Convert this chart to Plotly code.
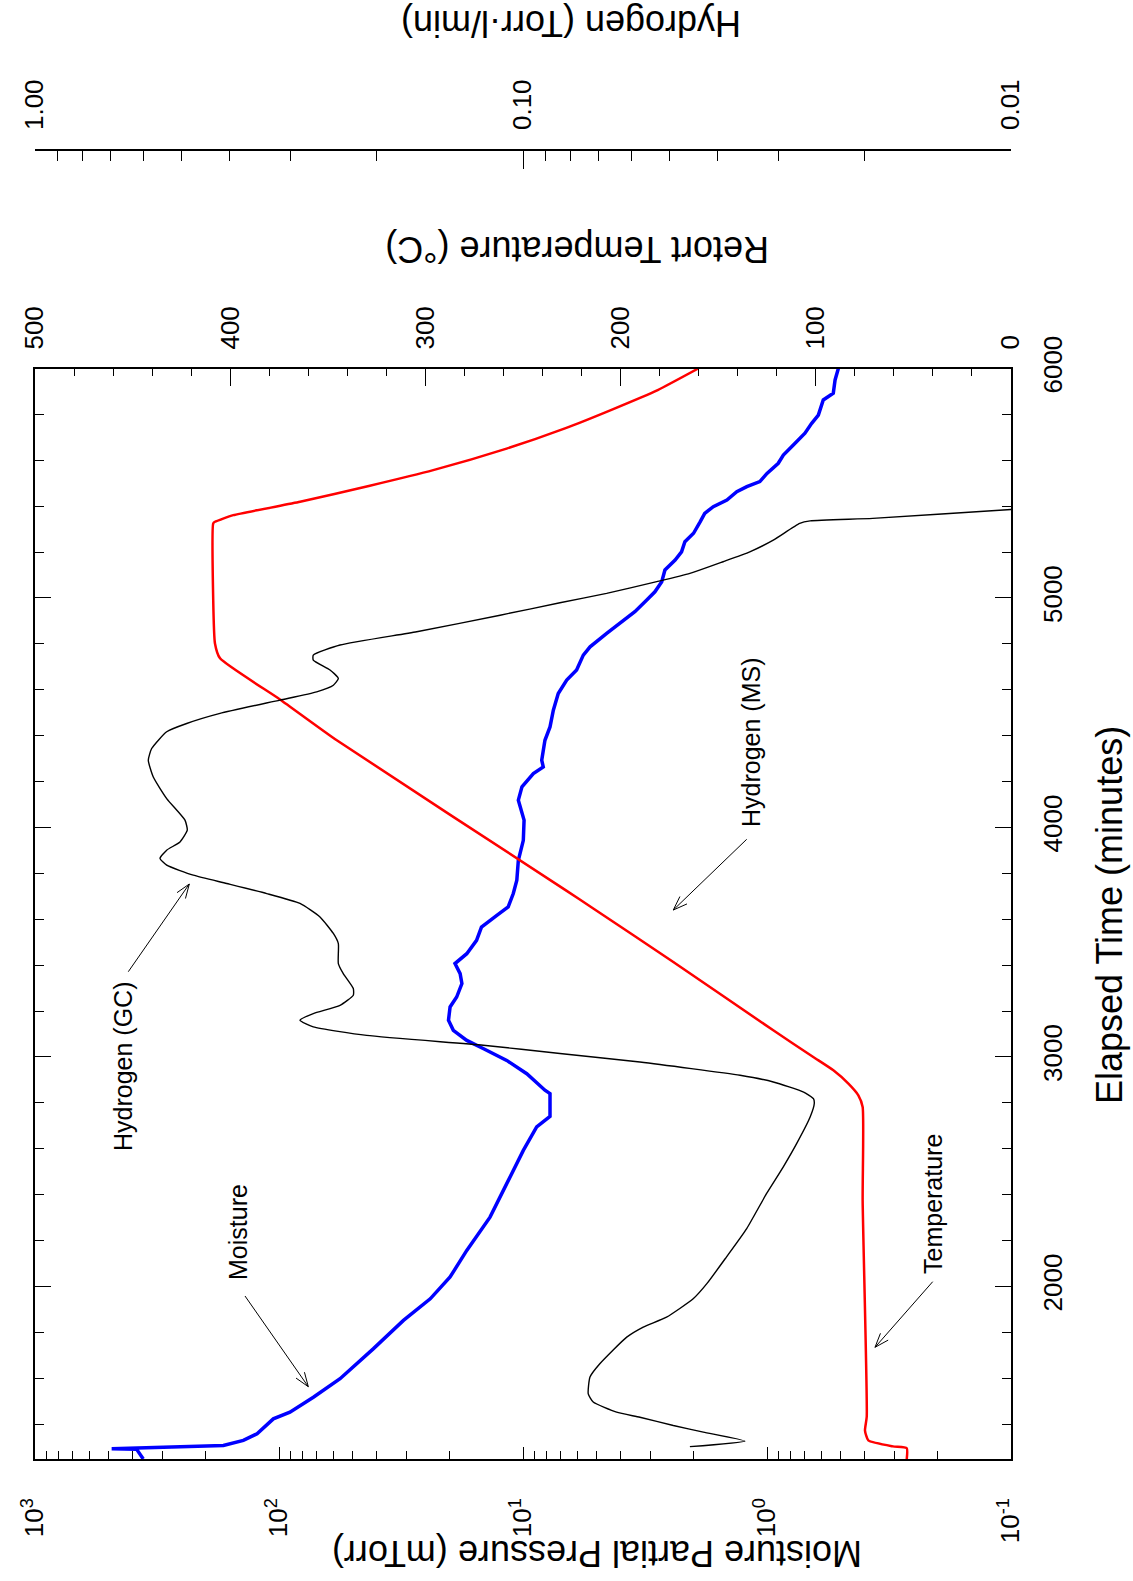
import math
import plotly.graph_objects as go

# ---------------- data ----------------
# Retort temperature (deg C) vs elapsed time (min)
red_time = [1248, 1295, 1303, 1329, 1372, 1433, 2375, 2782, 2833, 2884, 2942, 3000, 3116, 3414,
            3647, 3726, 4380, 4558, 4737, 4802, 4991, 5325, 5332, 5361, 5419, 5488, 5557, 5652,
            5739, 5819, 5906, 6000]
red_temp = [53.4, 53.4, 60.5, 73.1, 74.8, 73.9, 76.0, 76.0, 78.2, 83.3, 91.0, 101.3, 121.8, 173.0,
            214.0, 228.0, 345.4, 374.5, 405.2, 407.8, 408.7, 408.7, 407.8, 398.4, 364.2, 329.0, 296.0,
            258.0, 228.5, 205.0, 181.0, 160.2]

# Moisture partial pressure (mTorr) vs elapsed time (min)
blue_time = [1248, 1290, 1293, 1307, 1329, 1358, 1423, 1452, 1517, 1598, 1728, 1852, 1946, 2041,
             2157, 2302, 2448, 2593, 2695, 2741, 2840, 2855, 2927, 2985, 3036, 3072, 3116, 3160,
             3218, 3261, 3320, 3363, 3407, 3450, 3508, 3566, 3617, 3654, 3712, 3770, 3857, 3944,
             4032, 4119, 4177, 4235, 4264, 4293, 4380, 4438, 4511, 4584, 4642, 4686, 4751, 4787,
             4846, 4904, 4940, 4991, 5027, 5071, 5122, 5165, 5201, 5245, 5282, 5332, 5369, 5398,
             5427, 5463, 5485, 5507, 5543, 5587, 5623, 5667, 5718, 5761, 5797, 5863, 5892, 5950, 6000]
blue_moist = [360, 383, 485, 169, 140, 123, 105.5, 90.2, 72.3, 56.2, 41.1, 30.9, 24.0, 19.9,
              17.0, 13.65, 11.66, 9.97, 8.79, 7.75, 7.75, 8.13, 9.65, 11.66, 14.5, 17.0, 19.3, 20.2,
              19.9, 18.7, 17.8, 18.1, 19.0, 17.0, 15.5, 14.8, 12.8, 11.5, 10.96, 10.6, 10.45, 9.97,
              9.9, 10.45, 10.1, 9.07, 8.26, 8.38, 8.13, 7.75, 7.51, 7.17, 6.62, 6.03, 5.66, 5.31,
              4.54, 3.88, 3.48, 3.11, 2.88, 2.70, 2.62, 2.38, 2.24, 2.17, 2.00, 1.88, 1.80, 1.66,
              1.46, 1.33, 1.21, 1.07, 1.00, 0.899, 0.857, 0.780, 0.699, 0.656, 0.616, 0.588, 0.535,
              0.526, 0.510]

# Hydrogen (GC), Torr-l/min vs elapsed time (min)
black_time = [1302, 1326, 1365, 1394, 1430, 1452, 1496, 1532, 1605, 1663, 1779, 1823, 1866, 1946,
              2012, 2128, 2252, 2404, 2520, 2622, 2738, 2797, 2818, 2847, 2891, 2920, 2978, 3015,
              3051, 3094, 3131, 3160, 3189, 3225, 3269, 3298, 3363, 3407, 3494, 3538, 3610, 3669,
              3712, 3756, 3792, 3836, 3865, 3901, 3937, 3988, 4032, 4126, 4220, 4293, 4344, 4417,
              4453, 4497, 4555, 4591, 4620, 4649, 4686, 4729, 4751, 4795, 4853, 4925, 4979, 5020,
              5071, 5107, 5158, 5201, 5252, 5325, 5336, 5347, 5386, 5394]
black_h2 = [0.0455, 0.0351, 0.0427, 0.0492, 0.0576, 0.0643, 0.0718, 0.0735, 0.0729, 0.0696, 0.0613,
            0.0567, 0.0508, 0.0448, 0.0420, 0.0383, 0.0348, 0.0317, 0.0293, 0.0275, 0.0258, 0.0253,
            0.0254, 0.0266, 0.0307, 0.0359, 0.0576, 0.0840, 0.1206, 0.2091, 0.2690, 0.2864, 0.2690,
            0.2371, 0.2227, 0.2227, 0.2335, 0.2390, 0.2390, 0.2447, 0.2606, 0.2864, 0.3350, 0.4047,
            0.4739, 0.5372, 0.5544, 0.5372, 0.5045, 0.4875, 0.4928, 0.5372, 0.5723, 0.5859, 0.5767,
            0.5372, 0.4888, 0.4177, 0.3148, 0.2647, 0.2447, 0.2390, 0.2486, 0.2690, 0.2690, 0.2371,
            0.1651, 0.1114, 0.0840, 0.0674, 0.0532, 0.0455, 0.0389, 0.0343, 0.0307, 0.0271, 0.0258,
            0.0192, 0.00997, 0.0087]

# tick values / labels
time_ticks = [2000, 3000, 4000, 5000, 6000]
moist_ticks = [1000, 100, 10, 1, 0.1]
moist_tick_text = ["10<sup>3</sup>", "10<sup>2</sup>", "10<sup>1</sup>", "10<sup>0</sup>", "10<sup>-1</sup>"]
temp_ticks = [500, 400, 300, 200, 100, 0]
h2_ticks = [1.0, 0.1, 0.01]
h2_tick_text = ["1.00", "0.10", "0.01"]

moist_minor = [m * 10.0 ** e for e in range(-1, 3) for m in range(2, 10)]
h2_minor = [m * 10.0 ** e for e in range(-2, 0) for m in range(2, 10)]

# ---------------- layout geometry ----------------
W, H = 1133, 1581
L, R, T, B = 35, 122, 150, 122
PW = W - L - R
PH = H - T - B
MAIN_TOP = 368.5
ydom_top = (H - B - MAIN_TOP) / PH


def px(x):
    return (x - L) / PW


def py(y):
    return (H - B - y) / PH


FONT = "Liberation Sans, Arial, Helvetica, sans-serif"
TICKFONT = dict(family=FONT, size=26, color="black")

fig = go.Figure()
fig.add_trace(go.Scatter(x=blue_moist, y=blue_time, mode="lines", xaxis="x", yaxis="y",
                         line=dict(color="#0000ff", width=3.5), showlegend=False))
fig.add_trace(go.Scatter(x=red_temp, y=red_time, mode="lines", xaxis="x2", yaxis="y",
                         line=dict(color="#ff0000", width=2.5, shape="spline", smoothing=0.5),
                         showlegend=False))
fig.add_trace(go.Scatter(x=black_h2, y=black_time, mode="lines", xaxis="x3", yaxis="y",
                         line=dict(color="black", width=1.4, shape="spline", smoothing=0.5),
                         showlegend=False))

common = dict(showgrid=False, zeroline=False, showline=True, linecolor="black", linewidth=1.5,
              tickcolor="black", tickwidth=1.3, tickfont=TICKFONT, automargin=False)

fig.update_layout(
    width=W, height=H,
    margin=dict(l=L, r=R, t=T, b=B, pad=0),
    paper_bgcolor="white", plot_bgcolor="white",
    showlegend=False,
    font=dict(family=FONT, color="black"),
    xaxis=dict(type="log", range=[3, -1], domain=[0, 1], anchor="y", side="bottom",
               ticks="inside", ticklen=12, tickmode="array", tickvals=moist_ticks,
               ticktext=moist_tick_text, tickangle=-90, ticklabelstandoff=27,
               minor=dict(ticks="inside", ticklen=8, tickmode="array", tickvals=moist_minor,
                          tickcolor="black", tickwidth=1.3, showgrid=False),
               **common),
    xaxis2=dict(range=[500, 0], overlaying="x", anchor="y", side="top",
                ticks="inside", ticklen=18, tickmode="array", tickvals=temp_ticks,
                tickangle=-90, ticklabelstandoff=12,
                minor=dict(ticks="inside", ticklen=8, dtick=20, tick0=0,
                           tickcolor="black", tickwidth=1.3, showgrid=False),
                **common),
    xaxis3=dict(type="log", range=[0, -2], overlaying="x", anchor="free", position=1, side="top",
                ticks="inside", ticklen=18, tickmode="array", tickvals=h2_ticks,
                ticktext=h2_tick_text, tickangle=-90, ticklabelstandoff=14,
                minor=dict(ticks="inside", ticklen=10, tickmode="array", tickvals=h2_minor,
                           tickcolor="black", tickwidth=1.3, showgrid=False),
                **common),
    yaxis=dict(range=[1248, 6000], domain=[0, ydom_top], anchor="x", side="right",
               mirror="ticks", ticks="inside", ticklen=16, tickmode="array", tickvals=time_ticks,
               tickangle=-90, ticklabelstandoff=18,
               minor=dict(ticks="inside", ticklen=9, dtick=200, tick0=0,
                          tickcolor="black", tickwidth=1.3, showgrid=False),
               **common),
)

# axis titles (rotated like the reference)
titles = [
    ("Moisture Partial Pressure (mTorr)", 597, 1553, 180),
    ("Retort Temperature (°C)", 577, 250, 180),
    ("Hydrogen (Torr·l/min)", 571, 24, 180),
    ("Elapsed Time (minutes)", 1109, 915, -90),
]
for text, cx, cy, ang in titles:
    fig.add_annotation(text=text, x=px(cx), y=py(cy), xref="paper", yref="paper",
                       showarrow=False, textangle=ang, xanchor="center", yanchor="middle",
                       font=dict(family=FONT, size=36, color="black"))

# curve labels
labels = [
    ("Moisture", 238, 1232),
    ("Hydrogen (GC)", 123, 1066),
    ("Hydrogen (MS)", 751, 742),
    ("Temperature", 933, 1204),
]
for text, cx, cy in labels:
    fig.add_annotation(text=text, x=px(cx), y=py(cy), xref="paper", yref="paper",
                       showarrow=False, textangle=-90, xanchor="center", yanchor="middle",
                       font=dict(family=FONT, size=25, color="black"))

# arrows drawn as line shapes with open V heads: (tail x, tail y, head x, head y) in pixels
arrows = [
    (245, 1296, 308.3, 1386.7),
    (128.3, 971.7, 189.3, 884),
    (746.7, 839.3, 673.3, 910),
    (932.7, 1281.7, 875, 1347.3),
]
BARB = 15
BARB_ANG = math.radians(20)
for tx, ty, hx, hy in arrows:
    line_style = dict(color="black", width=1)
    fig.add_shape(type="line", xref="paper", yref="paper",
                  x0=px(tx), y0=py(ty), x1=px(hx), y1=py(hy), line=line_style)
    dx, dy = tx - hx, ty - hy
    n = math.hypot(dx, dy)
    ux, uy = dx / n, dy / n
    for s in (1, -1):
        c, si = math.cos(s * BARB_ANG), math.sin(s * BARB_ANG)
        bx = hx + BARB * (ux * c - uy * si)
        by = hy + BARB * (ux * si + uy * c)
        fig.add_shape(type="line", xref="paper", yref="paper",
                      x0=px(hx), y0=py(hy), x1=px(bx), y1=py(by), line=line_style)

fig.write_html("out.html")
